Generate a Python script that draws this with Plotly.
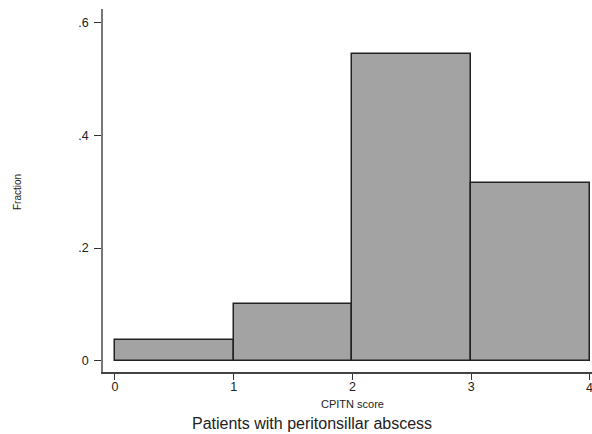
import plotly.graph_objects as go

bin_left = [0, 1, 2, 3]
fraction = [0.038, 0.101, 0.544, 0.316]
x_ticks = [0, 1, 2, 3, 4]
x_tick_labels = ["0", "1", "2", "3", "4"]
y_ticks = [0, 0.2, 0.4, 0.6]
y_tick_labels = ["0", ".2", ".4", ".6"]

fig = go.Figure()
fig.add_trace(go.Bar(
    x=[b + 0.5 for b in bin_left],
    y=fraction,
    width=[1] * len(bin_left),
    marker=dict(color="#a3a3a3", line=dict(color="#222222", width=1.5)),
    showlegend=False,
    hoverinfo="skip",
))

fig.update_layout(
    width=592, height=434,
    margin=dict(l=103, r=0, t=9, b=62),
    paper_bgcolor="white", plot_bgcolor="white",
    font=dict(family="Liberation Sans, Arial, sans-serif", color="#222222"),
    bargap=0,
    xaxis=dict(
        range=[-0.101, 4.017], showgrid=False, zeroline=False,
        showline=True, linecolor="#444444", linewidth=1.5,
        ticks="outside", ticklen=6, tickcolor="#333333", tickwidth=1.2,
        tickvals=x_ticks, ticktext=x_tick_labels,
        tickfont=dict(size=12.5), ticklabelstandoff=-4,
    ),
    yaxis=dict(
        range=[-0.0195, 0.6236], showgrid=False, zeroline=False,
        showline=True, linecolor="#777777", linewidth=1.5,
        ticks="outside", ticklen=7, tickcolor="#333333", tickwidth=1.2,
        tickvals=y_ticks, ticktext=y_tick_labels,
        tickfont=dict(size=12.5), ticklabelstandoff=3,
    ),
)

pw = 592 - 103
ph = 434 - 9 - 62


def px2paper(px, py):
    return (px - 103) / pw, (434 - 62 - py) / ph


texts = [
    ("Fraction", 17, 192, 10, -90),
    ("CPITN score", 352, 404, 11, 0),
    ("Patients with peritonsillar abscess", 312, 423, 16, 0),
]
for t, px, py, size, ang in texts:
    xp, yp = px2paper(px, py)
    fig.add_annotation(text=t, x=xp, y=yp, xref="paper", yref="paper",
                       showarrow=False, textangle=ang, font=dict(size=size),
                       xanchor="center", yanchor="middle")

# last x tick label (clipped at the right edge in the reference)
_, yp = px2paper(0, 388)
fig.add_annotation(text=x_tick_labels[-1], x=x_ticks[-1], y=yp, xref="x", yref="paper",
                   showarrow=False, font=dict(size=12.5),
                   xanchor="center", yanchor="middle")

fig.write_html(
    "out.html",
    config={"displayModeBar": False},
    post_script="document.body.style.margin='0';document.body.style.overflow='hidden';",
)
